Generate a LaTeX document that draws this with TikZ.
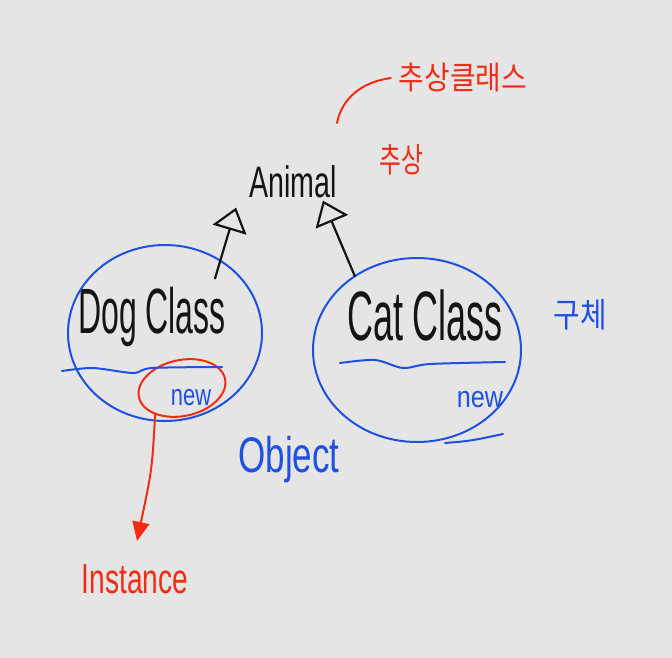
\documentclass[tikz,border=0pt]{standalone}
\usepackage{fontspec}
\setmainfont{Liberation Sans}
\newfontfamily\kor{Noto Sans CJK KR}
\usetikzlibrary{shapes,arrows.meta,calc}
\definecolor{board}{RGB}{229,229,229}
\definecolor{penblue}{RGB}{30,80,225}
\definecolor{penred}{RGB}{240,45,20}
\definecolor{penblack}{RGB}{20,20,20}
\newcommand{\narrow}[2]{\scalebox{#1}[1]{#2}}

\begin{document}
\begin{tikzpicture}[x=1pt,y=-1pt,
    ink/.style={line width=2.2pt, line cap=round, line join=round},
    blueink/.style={ink, draw=penblue, line width=2pt},
    redink/.style={ink, draw=penred, line width=2pt},
    blackink/.style={ink, draw=penblack},
    word/.style={inner sep=0pt, anchor=base},
    hangul/.style={inner sep=0pt, font=\kor\fontsize{32}{32}\selectfont},
    hollowtip/.style={-{Triangle[open, length=23pt, width=35pt]}},
    solidtip/.style={-{Triangle[length=19pt, width=17pt]}}]
  \fill[board] (0,0) rectangle (672,658);
  \useasboundingbox (0,0) rectangle (672,658);

  % class names
  \node[word, text=penblack, font=\fontsize{44}{44}\selectfont] (animal) at (293,197) {\narrow{0.65}{Animal}};
  \node[word, text=penblack, font=\fontsize{64}{64}\selectfont] (dog) at (152,333) {\narrow{0.5}{Dog Class}};
  \node[word, text=penblack, font=\fontsize{70}{70}\selectfont] (cat) at (425,340) {\narrow{0.514}{Cat Class}};
  \node[word, text=penblue, font=\fontsize{30}{30}\selectfont] (dognew) at (191,405) {\narrow{0.73}{new}};
  \node[word, text=penblue, font=\fontsize{30}{30}\selectfont] (catnew) at (480,407) {\narrow{0.84}{new}};
  \node[word, text=penblue, font=\fontsize{50}{50}\selectfont] (object) at (289,472) {\narrow{0.7}{Object}};
  \node[word, text=penred, font=\fontsize{42}{42}\selectfont] (instance) at (135,593) {\narrow{0.67}{Instance}};

  % korean notes
  \node[hangul, text=penred] (abstractclass) at (463,78) {\narrow{0.87}{추상클래스}};
  \node[hangul, text=penred, font=\kor\fontsize{34}{34}\selectfont] (abstract) at (401,160) {\narrow{0.7}{추상}};
  \node[hangul, text=penblue, font=\kor\fontsize{34}{34}\selectfont] (concrete) at (580,315) {\narrow{0.85}{구체}};

  % circles
  \node[blueink, ellipse, minimum width=194pt, minimum height=176pt] (dogcircle) at (165,333) {};
  \node[blueink, ellipse, minimum width=208pt, minimum height=184pt] (catcircle) at (417,350) {};
  \draw[blueink] (445,443) .. controls (470,441) .. (503,434);
  \node[redink, ellipse, minimum width=88pt, minimum height=56pt, rotate=12] (ring) at (182,388) {};

  % separators
  \draw[blueink] plot[smooth] coordinates {(62,371) (93,368) (133,373) (152,368) (222,367)};
  \draw[blueink] plot[smooth] coordinates {(340,363) (375,360) (403,368) (430,364) (505,362)};

  % inheritance
  \draw[blackink, hollowtip]
    ([shift={(-11,-8)}]dog.north east) -- ([shift={(-13,10)}]animal.south west);
  \draw[blackink, hollowtip]
    ([shift={(8,-13)}]cat.north west) -- ([shift={(-14,3)}]animal.south east);

  % instance pointer
  \draw[redink, solidtip]
    (ring.south west) .. controls (152,470) .. ([shift={(2,-23)}]instance.north);
  \coordinate (pointer) at (337,123);
  \draw[redink] (pointer) .. controls (342,98) and (362,82) .. ([xshift=-8pt]abstractclass.west);
\end{tikzpicture}
\end{document}
